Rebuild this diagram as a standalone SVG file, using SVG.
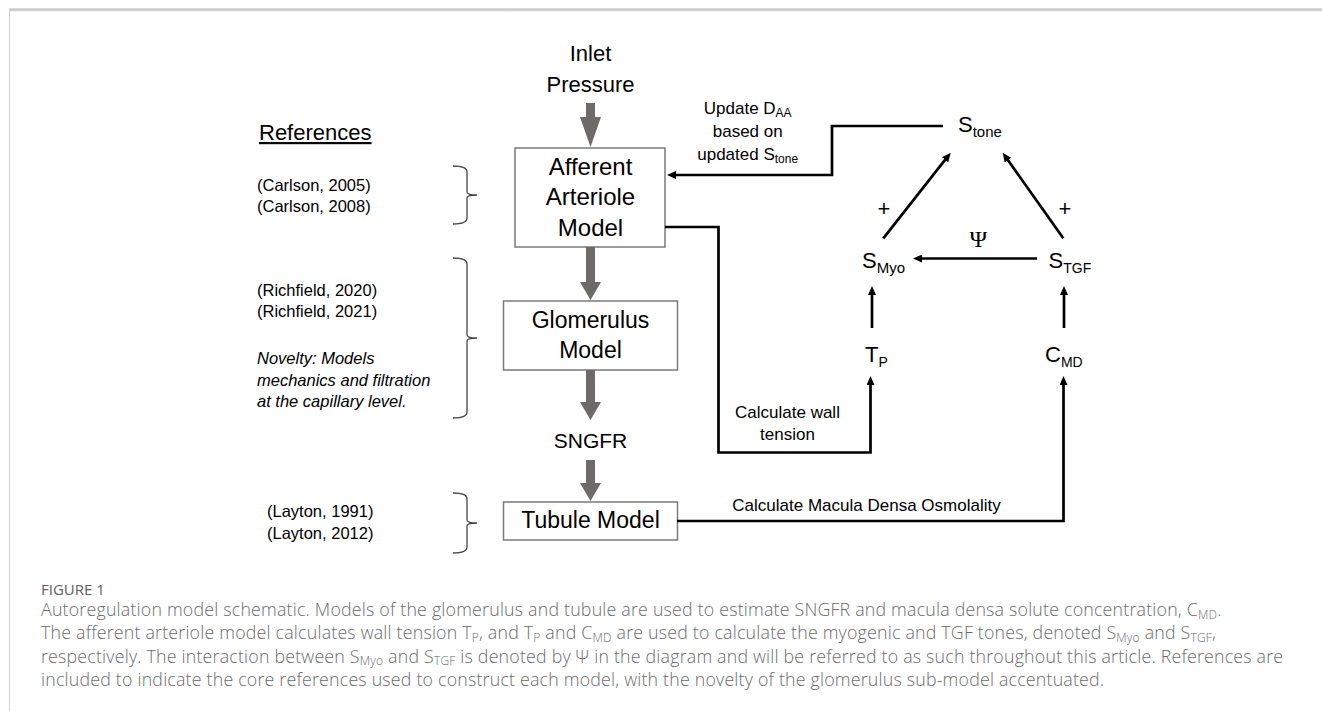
<svg xmlns="http://www.w3.org/2000/svg" width="1322" height="711" viewBox="0 0 1322 711">
<style>
.t{font-family:"Liberation Sans",Arial,sans-serif;fill:#000}
.box{fill:#fff;stroke:#7a7a7a;stroke-width:1.5}
.ga{fill:#6e6a6a}
.ln{fill:none;stroke:#000;stroke-width:2.7}
.br{fill:none;stroke:#444;stroke-width:1.3}
.cap{font-family:"Open Sans","Liberation Sans",sans-serif;fill:#6b6b6b;font-weight:300;font-size:17.8px;letter-spacing:0.2px}
.sub{font-size:12px}
</style>
<defs>
<marker id="ah" markerWidth="10" markerHeight="8" refX="4" refY="4" orient="auto" markerUnits="userSpaceOnUse"><path d="M0,0 L9,4 L0,8 z" fill="#000"/></marker>
<linearGradient id="topg" x1="0" y1="0" x2="0" y2="1"><stop offset="0" stop-color="#b8b8b8"/><stop offset="1" stop-color="#e4e4e4"/></linearGradient>
</defs>
<rect width="1322" height="711" fill="#fff"/>
<g id="frame">
<rect x="9" y="8.5" width="1313" height="3" fill="url(#topg)"/>
<line x1="9.5" y1="9" x2="9.5" y2="711" stroke="#cfcfcf" stroke-width="1"/>
</g>

<g id="references">
<text class="t" x="259" y="140" font-size="22" text-decoration="underline">References</text>
<text class="t" x="257" y="190.5" font-size="16.5">(Carlson, 2005)</text>
<text class="t" x="257" y="212" font-size="16.5">(Carlson, 2008)</text>
<text class="t" x="257" y="295.5" font-size="16.5">(Richfield, 2020)</text>
<text class="t" x="257" y="317" font-size="16.5">(Richfield, 2021)</text>
<text class="t" x="257" y="363.5" font-size="16.5" font-style="italic">Novelty: Models</text>
<text class="t" x="257" y="385.5" font-size="16.5" font-style="italic">mechanics and filtration</text>
<text class="t" x="257" y="407" font-size="16.5" font-style="italic">at the capillary level.</text>
<text class="t" x="267" y="517" font-size="16.5">(Layton, 1991)</text>
<text class="t" x="267" y="539" font-size="16.5">(Layton, 2012)</text>
<path class="br" d="M453,166 Q467,166 467,172 L467,192 Q467,195 477,195 Q467,195 467,198 L467,218 Q467,224 453,224"/>
<path class="br" d="M453,258 Q467,258 467,264 L467,335 Q467,338 477,338 Q467,338 467,341 L467,412 Q467,418 453,418"/>
<path class="br" d="M453,493 Q467,493 467,499 L467,520 Q467,523 477,523 Q467,523 467,526 L467,547 Q467,553 453,553"/>
</g>

<g id="inlet">
<text class="t" x="590.5" y="60.7" font-size="22" text-anchor="middle">Inlet</text>
<text class="t" x="590.5" y="91.7" font-size="22" text-anchor="middle">Pressure</text>
</g>

<g id="afferent">
<rect class="box" x="515" y="148" width="150" height="99"/>
<text class="t" x="590.5" y="175" font-size="24" text-anchor="middle">Afferent</text>
<text class="t" x="590.5" y="205" font-size="24" text-anchor="middle">Arteriole</text>
<text class="t" x="590.5" y="235.5" font-size="24" text-anchor="middle">Model</text>
</g>

<g id="glomerulus">
<rect class="box" x="503.5" y="301" width="174" height="69"/>
<text class="t" x="590.5" y="328.3" font-size="23" text-anchor="middle">Glomerulus</text>
<text class="t" x="590.5" y="358.3" font-size="23" text-anchor="middle">Model</text>
</g>

<g id="sngfr">
<text class="t" x="590.5" y="448.3" font-size="21" text-anchor="middle">SNGFR</text>
</g>

<g id="tubule">
<rect class="box" x="503.5" y="502" width="174" height="38"/>
<text class="t" x="590.5" y="528.3" font-size="23" text-anchor="middle">Tubule Model</text>
</g>

<g id="stone">
<text class="t" x="958" y="131.7" font-size="22">S<tspan font-size="15" dy="5">tone</tspan></text>
</g>
<g id="smyo">
<text class="t" x="862" y="268.3" font-size="22">S<tspan font-size="15" dy="5">Myo</tspan></text>
</g>
<g id="stgf">
<text class="t" x="1048.5" y="268.3" font-size="22">S<tspan font-size="14" dy="5">TGF</tspan></text>
</g>
<g id="tp">
<text class="t" x="865" y="361.7" font-size="22">T<tspan font-size="14" dy="5">P</tspan></text>
</g>
<g id="cmd">
<text class="t" x="1045" y="361.7" font-size="22">C<tspan font-size="14" dy="5">MD</tspan></text>
</g>

<g id="connectors">
<polygon class="ga" points="586,103 595,103 595,117 601,117 590.5,147 580,117 586,117"/>
<polygon class="ga" points="586,247 595,247 595,282 601,282 590.5,300 580,282 586,282"/>
<polygon class="ga" points="586,370 595,370 595,402 601,402 590.5,420 580,402 586,402"/>
<polygon class="ga" points="586,460 595,460 595,483 601,483 590.5,501 580,483 586,483"/>
<path class="ln" d="M943,126 H832 V175 H672" marker-end="url(#ah)"/>
<path class="ln" d="M665,227 H718.5 V452.5 H870.5 V381" marker-end="url(#ah)"/>
<path class="ln" d="M677,521 H1063.5 V381" marker-end="url(#ah)"/>
<path class="ln" d="M872,328 V291" marker-end="url(#ah)"/>
<path class="ln" d="M1064,328 V291" marker-end="url(#ah)"/>
<path class="ln" d="M1037,258.5 H918" marker-end="url(#ah)"/>
<path class="ln" d="M883.3,238.3 L947.6,156.6" marker-end="url(#ah)"/>
<path class="ln" d="M1063.3,238.3 L1005.6,156.8" marker-end="url(#ah)"/>
<text class="t" x="747.7" y="114.3" font-size="17" text-anchor="middle">Update D<tspan font-size="12" dy="3">AA</tspan></text>
<text class="t" x="747.7" y="136.7" font-size="17" text-anchor="middle">based on</text>
<text class="t" x="747.7" y="160" font-size="17" text-anchor="middle">updated S<tspan font-size="12" dy="3">tone</tspan></text>
<text class="t" x="787.5" y="418.3" font-size="17" text-anchor="middle">Calculate wall</text>
<text class="t" x="787.5" y="440" font-size="17" text-anchor="middle">tension</text>
<text class="t" x="866.5" y="511" font-size="17" text-anchor="middle">Calculate Macula Densa Osmolality</text>
<text class="t" x="884" y="215.5" font-size="22" text-anchor="middle">+</text>
<text class="t" x="1065" y="215.5" font-size="22" text-anchor="middle">+</text>
<text x="978.3" y="246.5" font-size="24" text-anchor="middle" font-family="'Liberation Serif','Times New Roman',serif" fill="#000">Ψ</text>
</g>

<g id="caption">
<text x="41" y="595" font-family="'Open Sans','Liberation Sans',sans-serif" font-size="15" fill="#5e5e5e">FIGURE 1</text>
<text class="cap" x="41" y="616">Autoregulation model schematic. Models of the glomerulus and tubule are used to estimate SNGFR and macula densa solute concentration, C<tspan class="sub" dy="2.5">MD</tspan><tspan dy="-2.5">.</tspan></text>
<text class="cap" x="41" y="639.3">The afferent arteriole model calculates wall tension T<tspan class="sub" dy="2.5">P</tspan><tspan dy="-2.5">, and T</tspan><tspan class="sub" dy="2.5">P</tspan><tspan dy="-2.5"> and C</tspan><tspan class="sub" dy="2.5">MD</tspan><tspan dy="-2.5"> are used to calculate the myogenic and TGF tones, denoted S</tspan><tspan class="sub" dy="2.5">Myo</tspan><tspan dy="-2.5"> and S</tspan><tspan class="sub" dy="2.5">TGF</tspan><tspan dy="-2.5">,</tspan></text>
<text class="cap" x="41" y="662.6">respectively. The interaction between S<tspan class="sub" dy="2.5">Myo</tspan><tspan dy="-2.5"> and S</tspan><tspan class="sub" dy="2.5">TGF</tspan><tspan dy="-2.5"> is denoted by Ψ in the diagram and will be referred to as such throughout this article. References are</tspan></text>
<text class="cap" x="41" y="685.9">included to indicate the core references used to construct each model, with the novelty of the glomerulus sub-model accentuated.</text>
</g>
</svg>
